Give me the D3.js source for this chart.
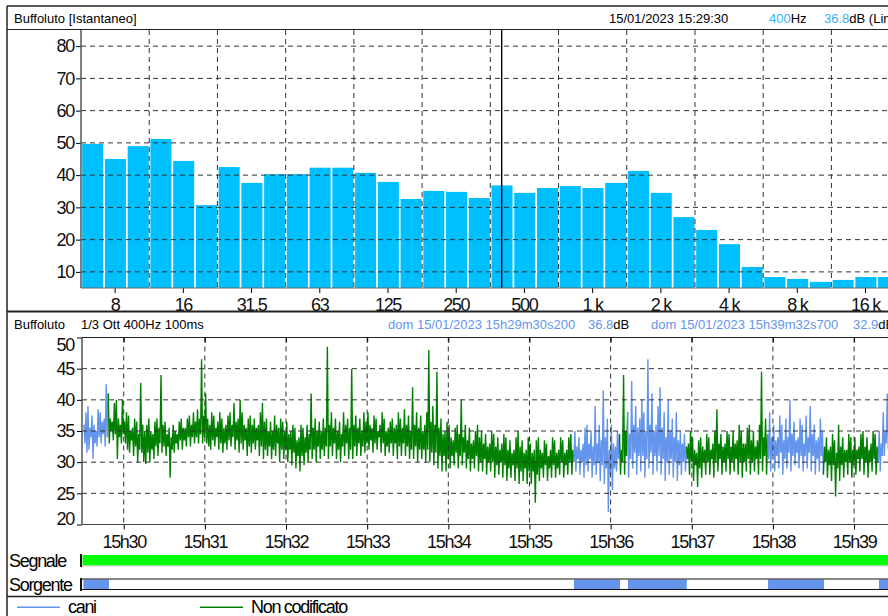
<!DOCTYPE html>
<html>
<head>
<meta charset="utf-8">
<script src="https://cdn.jsdelivr.net/npm/d3@7"></script>
<style>
  body { margin: 0; background: #fff; }
  svg { display: block; font-family: "Liberation Sans", Arial, sans-serif; }
  .big { font-size: 18px; letter-spacing: -1.3px; }
  .small { font-size: 13px; }
</style>
</head>
<body>
<div id="chart"></div>
<script>
// ---- spectrum (1/3 octave, instantaneous)
const bands = ["6.3","8","10","12.5","16","20","25","31.5","40","50","63","80","100","125","160","200","250","315","400","500","630","800","1k","1.25k","1.6k","2k","2.5k","3.15k","4k","5k","6.3k","8k","10k","12.5k","16k","20k"];
const bandLevels = [49.7,45.0,49.0,51.2,44.4,30.7,42.5,37.6,40.3,40.3,42.3,42.3,40.7,37.9,32.6,35.1,34.8,32.9,36.8,34.5,36.0,36.6,36.0,37.6,41.3,34.5,27.0,23.0,18.6,11.5,8.4,7.8,6.9,7.5,8.4,8.4];
const bandTicks = ["8","16","31.5","63","125","250","500","1k","2k","4k","8k","16k"];
const spectrumYTicks = [10,20,30,40,50,60,70,80];
const cursorBand = "400";

// ---- time history 400Hz, envelope per 1.5 s bin (peak / trough), one row per minute
const seriesStart = "15:29:30.200";
const seriesEnd = "15:39:32.700";
const binSeconds = 1.5;
const seriesHi = [
  36,38, 39,35.5, 37.5,36, 35,38.5, 38,36.5, 37,42.5, 41,37, 36.5,39.5, 40,37, 36,40,
  36.5,38, 37.5,35, 35.5,37, 36.5,34.5, 42.7,36, 35,36, 37,35, 34.5,36.5, 37,35.5, 44,36,
  36.5,34.5, 35.5,34, 36,35, 34.5,36.5, 37,35.5, 35.5,37, 37.5,36, 38,36.5, 38.5,37, 46.5,37.5,
  41,37, 36,38, 37.5,35.5, 36.5,38, 37,35.5, 36,37.5, 38,36, 39.5,36.5, 37,40, 38,36,
  35.5,37, 37.5,36, 37,35.5, 36,38, 39.5,36.5, 37,35, 36.5,35, 37.5,36, 35.5,37, 36.5,35,
  36.5,34.5, 35,36, 35.5,33.5, 34,36, 35.5,34, 36,34.5, 41,35.5, 37,35, 36.5,35, 37,35.5,
  48.5,36, 38,35.5, 37,35, 36.5,34.5, 38,36, 37,35.5, 45,36, 37.5,35.5, 37,35, 38,36.5,
  38,36, 35.5,37.5, 37,35, 36,38, 37,35, 35.5,36.5, 37,35.5, 36,38, 37,35.5, 38.5,36,
  37.5,35, 42,36, 38,35.5, 37.5,35, 36,38, 48,36.5, 39,36, 44.5,35.5, 37,34.5, 35,36.5,
  36,34, 33.5,35.5, 36,34.5, 40,34, 36,33.5, 35.5,33, 33.5,35, 36,34, 35,33, 34.5,32.5,
  33,35, 34.5,32.5, 34,32, 33,34.5, 34,32, 33.5,31.5, 32,34, 35,32.5, 33.5,31.5, 32,34,
  33,31.5, 32,33.5, 34,32, 31.5,33.5, 33,31, 32,34, 33.5,31.5, 32,34, 33.5,31.5, 32,34,
  34.5,32, 35,32.5, 34,32, 33,35.5, 36,33, 35,32.5, 39,33, 36,33.5, 41.5,34, 37,32,
  36,33, 32.5,35, 34.5,32, 44,35, 38,34.5, 43,36, 39,35.5, 37,40, 38,35, 46.5,36,
  41,35, 36,39, 42,35.5, 38,34, 40,35, 37,34, 38,33.5, 35,33, 34.5,32.5, 33,35,
  34,32, 31.5,33.5, 34,32.5, 32,34.5, 34,32, 33,35, 38.5,33, 34.5,32.5, 33,35, 34.5,32.5,
  35,33, 33.5,36, 35,33, 33,35.5, 36,33.5, 35,32.5, 33.5,36, 44.5,34, 37,34.5, 38,34,
  36,33.5, 34,37.5, 36,33.5, 37,34, 40,34.5, 36.5,33.5, 34,37, 36,33, 37.5,34, 39,34.5,
  36,33.5, 34,37, 35,32.5, 34,32, 32.5,34.5, 33.5,31.5, 36,32.5, 34,32, 32,34.5, 34,32,
  34,32, 32.5,34.5, 35,32.5, 34,32, 33,35, 34.5,32.5, 35,33, 38,35, 41,36, 38,35.5, 37,35
];
const seriesLo = [
  33,31.5, 32,34, 30.5,33, 32.5,34, 33,34.5, 32.5,34, 33,35, 33.5,34.5, 30.5,34, 33,34.5,
  33,32, 31.5,33.5, 31,32.5, 30,32, 31.5,30, 29.7,31.5, 30,32, 30.5,32.5, 31,33, 31.5,32.5,
  31,32.5, 27.5,32, 31.5,33, 32,33.5, 32,33.5, 32.5,34, 32.5,34, 33,34, 33,34.5, 33,34,
  33,32.5, 32,33.5, 32.5,34, 32,33, 31.5,33, 32,33.5, 32.5,34, 32,33.5, 31.5,33, 32,33.5,
  31,32.5, 31.5,33, 32,33.5, 31,32.5, 30.5,32, 31,32.5, 30.5,32, 31,33, 30,32, 30.5,32,
  30,32, 29.5,31.5, 29,31, 28.5,31, 29.5,31.5, 30,32, 30.5,32, 30,32.5, 30.5,32, 31,32.5,
  30.5,32.5, 31,33, 30.5,32, 30,32.5, 31,33, 30.5,32, 30.5,32.5, 31,33, 31,32.5, 31.5,33,
  32,33.5, 31.5,33, 32,34, 31.5,33, 31,32.5, 31.5,33, 31,33, 30.5,32.5, 31,33, 31,32.5,
  30.5,32, 30.5,32.5, 30,32, 30.5,32, 30,32, 30,31.5, 29.5,31.5, 29,31, 28.5,31, 28.5,30.5,
  29,31, 29.5,31.5, 29,31, 29.5,31.5, 29,30.5, 28.5,30.5, 29,31, 28.5,30, 28.5,30.5, 28,30,
  28.5,30, 27.5,29.5, 28,30, 27.5,29.5, 27,29, 27.5,29.5, 27,29, 26.5,28.5, 27,29, 26.5,28.5,
  26.5,28.5, 23.5,28, 27,29, 27.5,29.5, 27,29, 27.5,29.5, 27.5,29, 28,30, 27.5,29.5, 28,30,
  28,30, 28.5,30.5, 28,30, 27.5,29.5, 28.5,30.5, 27.5,29.5, 28,30, 27,29.5, 26.5,29, 22,28,
  25.5,29, 28.5,30.5, 28,30, 28,31, 27.5,30.5, 29,31.5, 28,31, 28.5,31, 27.5,30.5, 29,31.5,
  28,31, 28.5,31, 28,30.5, 27,30, 28,30.5, 27.5,30, 27,29.5, 28,30, 28.5,30.5, 28,30,
  27,29.5, 26,29, 27.5,30, 28,30, 28,30.5, 27.5,30, 28.5,30.5, 28,30, 28.5,30.5, 28,30,
  28.5,30.5, 28,30, 27.5,30, 28.5,30.5, 28,30, 28.5,30.5, 28,30.5, 28.5,31, 28,30.5, 28.5,31,
  28.5,31, 29,31.5, 28,30.5, 29,31.5, 28.5,31, 29.5,31.5, 29,31, 28.5,31, 29,31.5, 28.5,31,
  28,30.5, 28.5,31, 28,30, 27.5,29.5, 27,29.5, 24.5,29, 27,29.5, 27.5,30, 28,30, 27.5,29.5,
  28,30.5, 28.5,30.5, 28,30, 27.5,30, 28.5,30.5, 28,30, 28.5,31, 31,33, 32,34, 31,33, 31,33
];
// source coding "cani" (dogs), everything else "Non codificato"
const caniIntervals = [
  ["15:29:30.200","15:29:49.100"],
  ["15:35:32.900","15:36:06.900"],
  ["15:36:12.800","15:36:56.300"],
  ["15:37:56.400","15:38:37.800"],
  ["15:39:18.400","15:39:32.700"]
];
const historyYTicks = [20,25,30,35,40,45,50];

const colCani = "#6495ed";
const colOther = "#008000";
const colBar = "#00bfff";
const colHead = "#33b4f5";
const gridDash = "5,4";

const W = 888, H = 616;
const svg = d3.select("#chart").append("svg")
  .attr("width", W)
  .attr("height", H);

svg.append("rect").attr("width", W).attr("height", H).attr("fill", "#fff");

// =========================
// SPECTRUM PANEL
// =========================
const spectrum = bands.map((b, i) => ({ band: b, level: bandLevels[i] }));

const xBand = d3.scaleBand()
  .domain(bands)
  .range([81, 81 + bands.length * 22.74]);

const yTop = d3.scaleLinear()
  .domain([5, 85])
  .range([288, 30]);

const topG = svg.append("g");

topG.selectAll(".bar")
  .data(spectrum)
  .join("rect")
  .attr("class", "bar")
  .attr("x", d => xBand(d.band) + 1.2)
  .attr("width", xBand.bandwidth() - 1.7)
  .attr("y", d => yTop(d.level))
  .attr("height", d => yTop(5) - yTop(d.level))
  .attr("fill", colBar);

// grid
topG.selectAll(".hgrid")
  .data(spectrumYTicks)
  .join("line")
  .attr("x1", 81).attr("x2", W)
  .attr("y1", d => yTop(d)).attr("y2", d => yTop(d))
  .attr("stroke", "#333")
  .attr("stroke-dasharray", gridDash);

topG.selectAll(".vgrid")
  .data(bands.filter((b, i) => i > 0 && i % 3 === 0))
  .join("line")
  .attr("x1", d => xBand(d)).attr("x2", d => xBand(d))
  .attr("y1", 30).attr("y2", 288)
  .attr("stroke", "#333")
  .attr("stroke-dasharray", gridDash);

// cursor
const cx = xBand(cursorBand) + xBand.bandwidth() / 2;
topG.append("line")
  .attr("x1", cx).attr("x2", cx)
  .attr("y1", 30).attr("y2", 288)
  .attr("stroke", "#000")
  .attr("stroke-width", 1.4);

// axes
const topYAxis = topG.append("g")
  .attr("transform", "translate(81,0)")
  .call(d3.axisLeft(yTop).tickValues(spectrumYTicks).tickSize(5).tickPadding(2));
topYAxis.select(".domain").remove();
topYAxis.selectAll("text").attr("class", "big").attr("fill", "#111");

const topXAxis = topG.append("g")
  .attr("transform", "translate(0,288)")
  .call(d3.axisBottom(xBand).tickValues(bandTicks).tickSize(5)
    .tickFormat(d => d.replace("k", " k")));
topXAxis.select(".domain").remove();
topXAxis.selectAll("text")
  .attr("class", "big")
  .attr("fill", "#111")
  .attr("y", 22.5)
  .attr("dy", 0);

topG.append("line")
  .attr("x1", 81).attr("x2", W)
  .attr("y1", 288).attr("y2", 288)
  .attr("stroke", "#666");
topG.append("line")
  .attr("x1", 81).attr("x2", 81)
  .attr("y1", 30).attr("y2", 288)
  .attr("stroke", "#555")
  .attr("stroke-width", 1.5);

// header
svg.append("text").attr("class", "small")
  .attr("x", 14).attr("y", 23)
  .text("Buffoluto [Istantaneo]");
svg.append("text").attr("class", "small")
  .attr("x", 609).attr("y", 23)
  .text("15/01/2023 15:29:30");
const hz = svg.append("text").attr("class", "small").attr("x", 769).attr("y", 23);
hz.append("tspan").attr("fill", colHead).text("400");
hz.append("tspan").text("Hz");
const db = svg.append("text").attr("class", "small").attr("x", 824).attr("y", 23);
db.append("tspan").attr("fill", colHead).text("36.8");
db.append("tspan").text("dB (Lin)");

// =========================
// TIME HISTORY PANEL
// =========================
const parseT = d3.timeParse("%H:%M:%S.%L");
const t0 = parseT(seriesStart);
const t1 = parseT(seriesEnd);

const xTime = d3.scaleTime()
  .domain([t0, t1])
  .range([83.4, 898.3]);

const yHist = d3.scaleLinear()
  .domain([20, 50])
  .range([524.5, 337.5]);

const cani = caniIntervals.map(([a, b]) => [parseT(a), parseT(b)]);
const isCani = t => cani.some(([a, b]) => t >= a && t <= b);

// zigzag through the peaks and troughs read for each bin
const points = [];
seriesHi.forEach((hi, k) => {
  points.push({ t: new Date(+t0 + (binSeconds * k + binSeconds * 0.25) * 1000), v: hi });
  points.push({ t: new Date(+t0 + (binSeconds * k + binSeconds * 0.75) * 1000), v: seriesLo[k] });
});

// split into runs by source colour
const runs = [];
points.forEach((p, i) => {
  const c = isCani(p.t);
  if (!runs.length || runs[runs.length - 1].cani !== c) {
    const run = { cani: c, pts: [] };
    if (runs.length) run.pts.push(points[i - 1]);
    runs.push(run);
  }
  runs[runs.length - 1].pts.push(p);
});

svg.append("clipPath").attr("id", "histClip")
  .append("rect")
  .attr("x", 82).attr("y", 337.5)
  .attr("width", W - 82).attr("height", 187);

const histG = svg.append("g");
const line = d3.line()
  .defined(d => d.v != null && !isNaN(d.v))
  .x(d => xTime(d.t))
  .y(d => yHist(d.v));

histG.append("g")
  .attr("clip-path", "url(#histClip)")
  .selectAll("path")
  .data(runs)
  .join("path")
  .attr("d", d => line(d.pts))
  .attr("fill", "none")
  .attr("stroke", d => d.cani ? colCani : colOther)
  .attr("stroke-width", 1.4)
  .attr("stroke-linejoin", "bevel");

const minutes = xTime.ticks(d3.timeMinute.every(1));

histG.selectAll(".hgrid")
  .data(historyYTicks.filter(v => v > 20 && v < 50))
  .join("line")
  .attr("x1", 82).attr("x2", W)
  .attr("y1", d => yHist(d)).attr("y2", d => yHist(d))
  .attr("stroke", "#333")
  .attr("stroke-dasharray", gridDash);

histG.selectAll(".vgrid")
  .data(minutes)
  .join("line")
  .attr("x1", d => xTime(d)).attr("x2", d => xTime(d))
  .attr("y1", 337.5).attr("y2", 524.5)
  .attr("stroke", "#333")
  .attr("stroke-dasharray", gridDash);

// frame of plot
histG.append("line").attr("x1", 82).attr("x2", W).attr("y1", 337.5).attr("y2", 337.5)
  .attr("stroke", "#222").attr("stroke-width", 1.2);
histG.append("line").attr("x1", 82).attr("x2", W).attr("y1", 524.5).attr("y2", 524.5)
  .attr("stroke", "#444").attr("stroke-width", 1.2);
histG.append("line").attr("x1", 82).attr("x2", 82).attr("y1", 337.5).attr("y2", 524.5)
  .attr("stroke", "#555").attr("stroke-width", 1.5);

const histYAxis = histG.append("g")
  .attr("transform", "translate(82,0)")
  .call(d3.axisLeft(yHist).tickValues(historyYTicks).tickSize(5).tickPadding(3));
histYAxis.select(".domain").remove();
histYAxis.selectAll("text")
  .attr("class", "big")
  .attr("fill", "#111")
  .attr("y", d => d === 50 ? 7.5 : d === 20 ? -5.5 : 0);

const histXAxis = histG.append("g")
  .attr("transform", "translate(0,524.5)")
  .call(d3.axisBottom(xTime).ticks(d3.timeMinute.every(1)).tickSize(5)
    .tickFormat(d3.timeFormat("%Hh%M")));
histXAxis.select(".domain").remove();
histXAxis.selectAll("text")
  .attr("class", "big")
  .attr("fill", "#111")
  .attr("y", 23.5)
  .attr("dy", 0);

const histTopAxis = histG.append("g")
  .attr("transform", "translate(0,337.5)")
  .call(d3.axisTop(xTime).ticks(d3.timeMinute.every(1)).tickSize(-5).tickFormat(""));
histTopAxis.select(".domain").remove();

// header
svg.append("text").attr("class", "small").attr("x", 14).attr("y", 329).text("Buffoluto");
svg.append("text").attr("class", "small").attr("x", 81).attr("y", 329).text("1/3 Ott 400Hz 100ms");
svg.append("text").attr("class", "small").attr("x", 388).attr("y", 329)
  .attr("fill", colCani).text("dom 15/01/2023 15h29m30s200");
const v1 = svg.append("text").attr("class", "small").attr("x", 588).attr("y", 329);
v1.append("tspan").attr("fill", colCani).text("36.8");
v1.append("tspan").text("dB");
svg.append("text").attr("class", "small").attr("x", 651).attr("y", 329)
  .attr("fill", colCani).text("dom 15/01/2023 15h39m32s700");
const v2 = svg.append("text").attr("class", "small").attr("x", 853).attr("y", 329);
v2.append("tspan").attr("fill", colCani).text("32.9");
v2.append("tspan").text("dB");

// =========================
// SIGNAL / SOURCE ROWS
// =========================
svg.append("text").attr("class", "big").attr("x", 9).attr("y", 567).text("Segnale");
svg.append("rect").attr("x", 82.5).attr("y", 555).attr("width", W - 82).attr("height", 10.5)
  .attr("fill", "#00ff00");
svg.append("line").attr("x1", 82).attr("x2", W).attr("y1", 566).attr("y2", 566)
  .attr("stroke", "#ccc");
svg.append("line").attr("x1", 81).attr("x2", 81).attr("y1", 554).attr("y2", 567)
  .attr("stroke", "#111").attr("stroke-width", 2);

svg.append("text").attr("class", "big").attr("x", 9).attr("y", 590.5).text("Sorgente");
svg.selectAll(".src")
  .data(cani)
  .join("rect")
  .attr("class", "src")
  .attr("x", d => Math.max(82, xTime(d[0])))
  .attr("width", d => xTime(d[1]) - Math.max(82, xTime(d[0])))
  .attr("y", 579.5).attr("height", 9.5)
  .attr("fill", colCani);
svg.append("line").attr("x1", 82).attr("x2", W).attr("y1", 579).attr("y2", 579)
  .attr("stroke", "#111");
svg.append("line").attr("x1", 82).attr("x2", W).attr("y1", 589.5).attr("y2", 589.5)
  .attr("stroke", "#111");
svg.append("line").attr("x1", 81).attr("x2", 81).attr("y1", 578).attr("y2", 591)
  .attr("stroke", "#111").attr("stroke-width", 2);

// legend
const legend = [
  { name: "cani", color: colCani, x: 17 },
  { name: "Non codificato", color: colOther, x: 200 }
];
const lg = svg.selectAll(".legend")
  .data(legend)
  .join("g")
  .attr("class", "legend");
lg.append("rect")
  .attr("x", d => d.x)
  .attr("y", 606.5)
  .attr("width", 43)
  .attr("height", 1.5)
  .attr("fill", d => d.color);
lg.append("text")
  .attr("class", "big")
  .attr("x", d => d.x + 51)
  .attr("y", 613)
  .text(d => d.name);

// =========================
// PANEL FRAMES
// =========================
const frame = [
  [7, 6, W, 6, 1.5],
  [7, 6, 7, H, 1.5],
  [7, 29.5, W, 29.5, 1.2],
  [7, 311.5, W, 311.5, 2],
  [7, 596.5, W, 596.5, 1.5]
];
svg.selectAll(".frame")
  .data(frame)
  .join("line")
  .attr("class", "frame")
  .attr("x1", d => d[0]).attr("y1", d => d[1])
  .attr("x2", d => d[2]).attr("y2", d => d[3])
  .attr("stroke", "#222")
  .attr("stroke-width", d => d[4]);
</script>
</body>
</html>
